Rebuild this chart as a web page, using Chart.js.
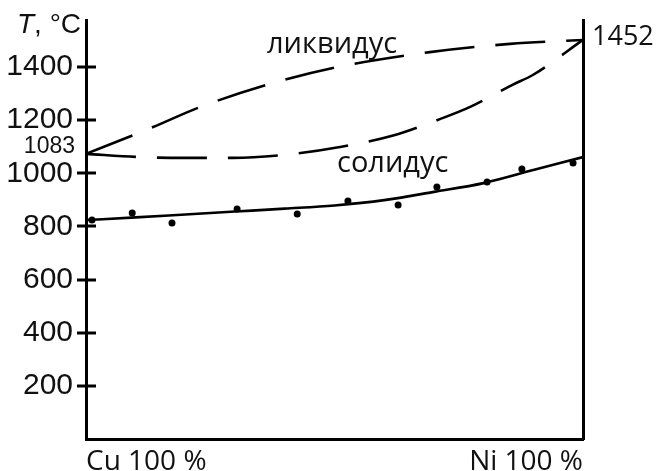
<!DOCTYPE html>
<html>
<head>
<meta charset="utf-8">
<script src="https://cdn.jsdelivr.net/npm/chart.js@4.4.1/dist/chart.umd.min.js"></script>
<style>
  html, body { margin: 0; padding: 0; background: #fff; }
  #wrap { width: 660px; height: 471px; position: relative; }
</style>
</head>
<body>
<div id="wrap"><canvas id="c"></canvas></div>
<script>
// ---- data ----
const xLabels = ['Cu 100 %', 'Ni 100 %'];
const yTickValues = [200, 400, 600, 800, 1000, 1200, 1400];

const liquidusX = [0, 13.5, 22.9, 38.4, 51.1, 69.2, 85.3, 100];
const liquidusT = [1073, 1174, 1249, 1344, 1402, 1456, 1487, 1502];

const solidusX = [0, 10.9, 20, 29.6, 41.6, 51.1, 61.8, 71.2, 77.3, 85.9, 89.9, 100];
const solidusT = [1073, 1061, 1058, 1058, 1073, 1099, 1142, 1204, 1250, 1334, 1370, 1502];

const fitX = [0, 10, 20, 30, 40, 50, 60, 70, 80, 90, 100];
const fitT = [824, 834, 845, 856, 867, 879, 899, 930, 963, 1012, 1061];

const measX = [1.2, 9.3, 17.3, 30.4, 42.5, 52.7, 62.8, 70.6, 80.7, 87.7, 98.0];
const measT = [824, 851, 813, 866, 847, 896, 881, 948, 967, 1016, 1039];

const cuMelt = 1083, niMelt = 1452;
const labelLiq = 'ликвидус', labelSol = 'солидус';
const axisTitle = ['T', ', °C'];

const pts = (xs, ys) => xs.map((x, i) => ({ x, y: ys[i] }));
const noPad = s => { s.paddingTop = 0; s.paddingBottom = 0; s.paddingLeft = 0; s.paddingRight = 0; };

const extras = {
  id: 'extras',
  afterDraw(chart) {
    const { ctx, chartArea: a, scales } = chart;
    const ys = scales.y;
    ctx.save();
    ctx.strokeStyle = '#000';
    ctx.lineWidth = 3;
    // crossing tick marks
    yTickValues.forEach(v => {
      const py = Math.round(ys.getPixelForValue(v));
      ctx.beginPath();
      ctx.moveTo(a.left - 9, py);
      ctx.lineTo(a.left + 10, py);
      ctx.stroke();
    });
    ctx.fillStyle = '#111';
    ctx.textBaseline = 'middle';
    // axis title
    ctx.font = 'italic 28px "Liberation Sans"';
    ctx.textAlign = 'left';
    ctx.fillText(axisTitle[0], 17, 25);
    const tw = ctx.measureText(axisTitle[0]).width;
    ctx.font = '28px "Liberation Sans"';
    ctx.fillText(axisTitle[1], 17 + tw, 25);
    // melting points
    ctx.font = '23px "Liberation Sans"';
    ctx.textAlign = 'right';
    ctx.fillText(String(cuMelt), 75, ys.getPixelForValue(liquidusT[0]) - 7);
    ctx.font = '27px "Open Sans"';
    ctx.textAlign = 'left';
    ctx.fillText(String(niMelt), a.right + 9, ys.getPixelForValue(liquidusT[liquidusT.length - 1]) - 3);
    // curve names
    ctx.font = '29px "Open Sans"';
    ctx.fillText(labelLiq, 267, 45);
    ctx.fillText(labelSol, 337, 164);
    ctx.restore();
  }
};

new Chart(document.getElementById('c'), {
  type: 'line',
  data: {
    datasets: [
      { data: pts(liquidusX, liquidusT), borderColor: '#000', borderWidth: 2.6,
        borderDash: [50, 21], pointRadius: 0, cubicInterpolationMode: 'monotone', fill: false },
      { data: pts(solidusX, solidusT), borderColor: '#000', borderWidth: 2.6,
        borderDash: [50, 21], pointRadius: 0, cubicInterpolationMode: 'monotone', fill: false },
      { data: pts(fitX, fitT), borderColor: '#000', borderWidth: 2.6,
        pointRadius: 0, cubicInterpolationMode: 'monotone', fill: false },
      { data: pts(measX, measT), showLine: false, pointRadius: 3.5,
        pointBackgroundColor: '#000', pointBorderColor: '#000', pointBorderWidth: 0 }
    ]
  },
  options: {
    responsive: true,
    maintainAspectRatio: false,
    animation: false,
    devicePixelRatio: 1,
    layout: { padding: { top: 20, left: 0, right: 0, bottom: 0 } },
    plugins: { legend: { display: false }, tooltip: { enabled: false } },
    scales: {
      x: {
        type: 'linear', min: 0, max: 100,
        afterBuildTicks: s => { s.ticks = [{ value: 0 }, { value: 100 }]; },
        afterFit: s => { s.height = 32; noPad(s); },
        grid: { display: false, drawTicks: false, tickLength: 0 },
        border: { display: true, color: '#000', width: 3 },
        ticks: {
          align: 'inner', maxRotation: 0, autoSkip: false, padding: 6,
          color: '#111', font: { family: 'Open Sans', size: 28 },
          callback: (v) => v === 0 ? xLabels[0] : xLabels[1]
        }
      },
      y: {
        type: 'linear', min: 0, max: 1577, position: 'left',
        afterBuildTicks: s => { s.ticks = yTickValues.map(v => ({ value: v })); },
        afterFit: s => { s.width = 86; noPad(s); },
        grid: { display: false, drawTicks: false, tickLength: 0 },
        border: { display: true, color: '#000', width: 3 },
        ticks: { padding: 13, color: '#111', font: { family: 'Liberation Sans', size: 30 },
          callback: v => String(v) }
      },
      y2: {
        type: 'linear', min: 0, max: 1577, position: 'right', display: true,
        afterFit: s => { s.width = 77; noPad(s); },
        grid: { display: false, drawTicks: false, tickLength: 0 },
        border: { display: true, color: '#000', width: 3 },
        ticks: { display: false }
      }
    }
  },
  plugins: [extras]
});
</script>
</body>
</html>
